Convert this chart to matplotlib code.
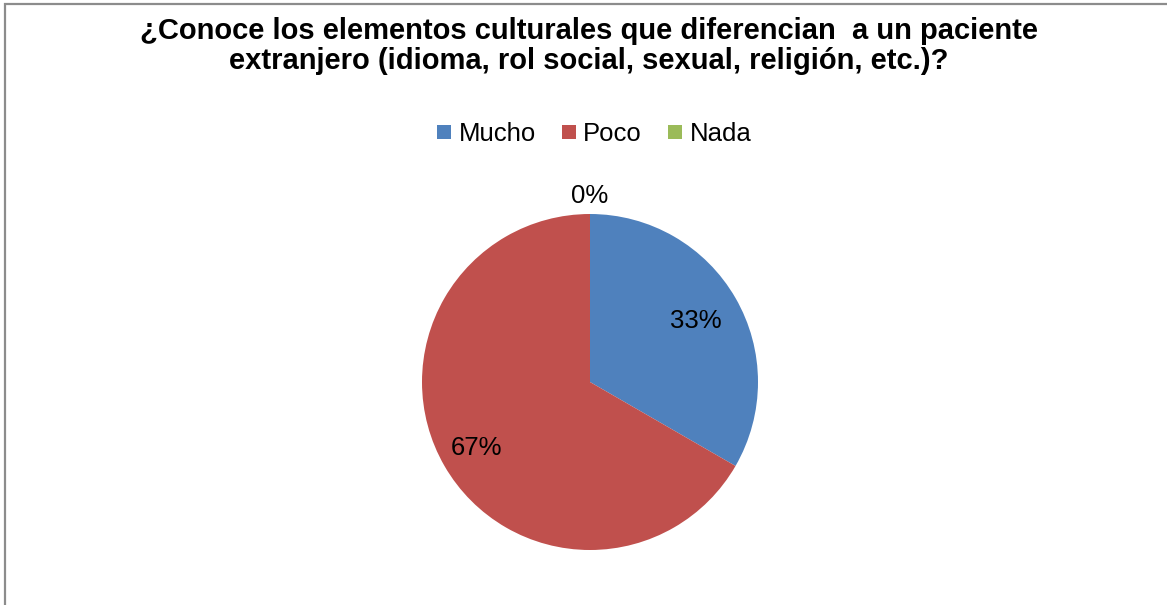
import numpy as np
import matplotlib
matplotlib.use("Agg")
import matplotlib.pyplot as plt
from matplotlib.patches import Rectangle
from matplotlib.lines import Line2D

plt.rcParams['font.family'] = ['Liberation Sans', 'DejaVu Sans']

categories = ["Mucho", "Poco", "Nada"]
values = [33.33, 66.67, 0.0]
colors = ["#4F81BD", "#C0504D", "#9BBB59"]
pct_labels = ["33%", "67%", "0%"]
title = "¿Conoce los elementos culturales que diferencian  a un paciente\nextranjero (idioma, rol social, sexual, religión, etc.)?"

W, H = 1167, 605
fig = plt.figure(figsize=(W / 100, H / 100), dpi=100)

# border
fig.add_artist(Rectangle((4.5 / W, -0.1), 1.2, (H - 3.5) / H + 0.1, transform=fig.transFigure,
                         fill=False, edgecolor="#8C8C8C", linewidth=1.6))

cx, cy, r = 590, H - 382, 168
ax = fig.add_axes([(cx - r) / W, (cy - r) / H, 2 * r / W, 2 * r / H])
wedges, _ = ax.pie(values, colors=colors, startangle=90, counterclock=False, radius=1,
                   wedgeprops=dict(linewidth=0))
ax.set_xlim(-1, 1)
ax.set_ylim(-1, 1)
ax.set_aspect("equal")
ax.axis("off")

dists = [0.73, 0.78, 1.11]
for w, lab, d in zip(wedges, pct_labels, dists):
    ang = np.deg2rad((w.theta1 + w.theta2) / 2)
    ax.text(d * np.cos(ang), d * np.sin(ang), lab, ha="center", va="center", fontsize=18.5, color="black")

fig.text(589 / W, 1 - 46 / H, title, ha="center", va="center", fontsize=21, fontweight="bold",
         linespacing=1.13)

handles = [Line2D([], [], marker="s", linestyle="none", markersize=9.5, markerfacecolor=c,
                  markeredgewidth=0) for c in colors]
fig.legend(handles, categories, loc="center", bbox_to_anchor=(594 / W, 1 - 134 / H), ncol=3,
           frameon=False, fontsize=18.5, handlelength=0.6, handletextpad=0.25, columnspacing=1.0)

fig.savefig("out.png", dpi=100)
